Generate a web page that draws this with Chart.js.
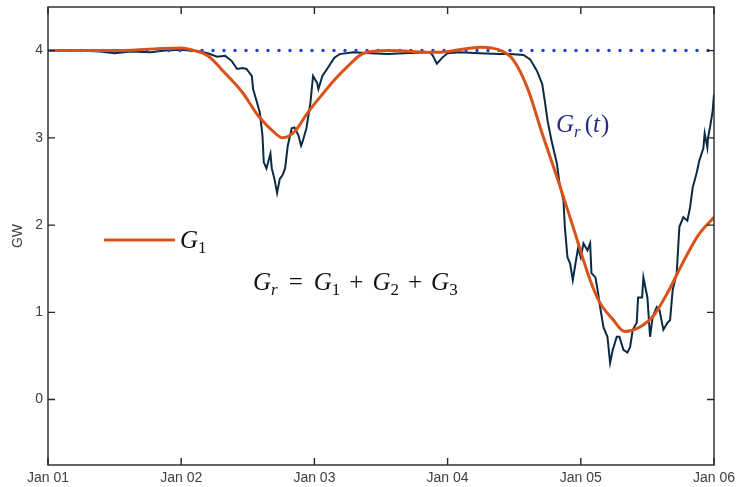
<!DOCTYPE html>
<html>
<head>
<meta charset="utf-8">
<script src="https://cdn.jsdelivr.net/npm/chart.js@4.4.0/dist/chart.umd.min.js"></script>
<style>
  html, body { margin: 0; padding: 0; background: #fff; }
  #wrap { width: 737px; height: 487px; }
</style>
</head>
<body>
<div id="wrap"><canvas id="genChart"></canvas></div>
<script>
// x values are days since Jan 01
const xTickDays = [0, 1, 2, 3, 4, 5];
const xTickLabels = ['Jan 01', 'Jan 02', 'Jan 03', 'Jan 04', 'Jan 05', 'Jan 06'];
const yTicks = [0, 1, 2, 3, 4];

// G_r(t) level (dotted)
const capDays = [0, 5];
const capGW = [4, 4];

// measured generation (dark noisy line)
const genDays = [
  0.00, 0.24, 0.39, 0.50, 0.62, 0.77, 0.88, 1.00, 1.14, 1.20,
  1.27, 1.33, 1.38, 1.42, 1.46, 1.49, 1.53, 1.54, 1.57, 1.59,
  1.61, 1.62, 1.64, 1.67, 1.68, 1.70, 1.72, 1.74, 1.76, 1.78,
  1.80, 1.83, 1.85, 1.88, 1.90, 1.91, 1.94, 1.97, 1.99, 2.02,
  2.03, 2.06, 2.10, 2.15, 2.19, 2.29, 2.42, 2.55, 2.67, 2.87,
  2.89, 2.92, 2.96, 3.00, 3.09, 3.24, 3.39, 3.47, 3.57, 3.62,
  3.67, 3.71, 3.73, 3.75, 3.78, 3.82, 3.84, 3.87, 3.88, 3.90,
  3.92, 3.94, 3.96, 3.98, 4.00, 4.02, 4.05, 4.07, 4.08, 4.11,
  4.13, 4.14, 4.17, 4.20, 4.22, 4.24, 4.27, 4.29, 4.32, 4.35,
  4.37, 4.39, 4.42, 4.43, 4.46, 4.47, 4.50, 4.505, 4.52, 4.54,
  4.57, 4.59, 4.62, 4.65, 4.67, 4.69, 4.72, 4.74, 4.77, 4.80,
  4.82, 4.84, 4.87, 4.89, 4.92, 4.93, 4.95, 4.955, 4.97, 4.99,
  5.00
];
const genGW = [
  4.00, 4.00, 3.99, 3.97, 3.99, 3.98, 4.00, 4.01, 3.99, 3.97,
  3.93, 3.94, 3.88, 3.79, 3.80, 3.79, 3.71, 3.56, 3.40, 3.29,
  3.03, 2.72, 2.65, 2.82, 2.65, 2.53, 2.37, 2.53, 2.57, 2.65,
  2.91, 3.11, 3.12, 3.03, 2.91, 2.95, 3.11, 3.40, 3.71, 3.63,
  3.56, 3.71, 3.80, 3.92, 3.96, 3.98, 3.97, 3.96, 3.97, 3.98,
  3.94, 3.85, 3.92, 3.97, 3.98, 3.97, 3.96, 3.96, 3.95, 3.90,
  3.77, 3.62, 3.42, 3.20, 2.97, 2.71, 2.48, 2.28, 1.98, 1.63,
  1.56, 1.37, 1.56, 1.74, 1.63, 1.79, 1.71, 1.79, 1.45, 1.40,
  1.22, 1.11, 0.83, 0.72, 0.42, 0.57, 0.72, 0.72, 0.57, 0.54,
  0.60, 0.80, 0.88, 1.17, 1.17, 1.40, 1.17, 1.06, 0.72, 0.95,
  1.06, 1.03, 0.80, 0.88, 0.91, 1.26, 1.45, 1.98, 2.09, 2.05,
  2.20, 2.43, 2.60, 2.74, 2.88, 3.05, 2.89, 3.00, 3.12, 3.31,
  3.50
];

// smooth component G_1 (orange)
const fitDays = [
  0.00, 0.50, 0.80, 1.00, 1.10, 1.20, 1.33, 1.46, 1.58, 1.70,
  1.76, 1.85, 1.95, 2.06, 2.16, 2.25, 2.37, 2.55, 2.92, 3.25,
  3.33, 3.40, 3.49, 3.60, 3.71, 3.83, 3.95, 4.07, 4.14, 4.24,
  4.33, 4.43, 4.55, 4.66, 4.77, 4.88, 5.00
];
const fitGW = [
  4.00, 4.00, 4.02, 4.03, 4.00, 3.94, 3.74, 3.52, 3.25, 3.06,
  3.00, 3.07, 3.29, 3.50, 3.68, 3.82, 3.97, 4.00, 3.98, 4.04,
  4.03, 4.00, 3.90, 3.57, 3.05, 2.51, 1.94, 1.37, 1.12, 0.92,
  0.78, 0.82, 0.97, 1.25, 1.58, 1.88, 2.09
];

function toPoints(xs, ys) {
  return xs.map((x, i) => ({ x: x, y: ys[i] }));
}

// draw a LaTeX-like string made of [text, kind] parts
function drawMath(ctx, x, y, parts, color) {
  let cx = x;
  ctx.fillStyle = color;
  ctx.textBaseline = 'alphabetic';
  ctx.textAlign = 'left';
  parts.forEach(([t, k]) => {
    if (k === 'gap') { cx += t; return; }
    let size = 25, dy = 0, style = '';
    if (k === 'i' || k === 'si') style = 'italic ';
    if (k === 's' || k === 'si') { size = 17; dy = 5; }
    ctx.font = style + size + 'px "Liberation Serif"';
    ctx.fillText(t, cx, y + dy);
    cx += ctx.measureText(t).width;
  });
}

function noPad(s) {
  s.paddingTop = 0; s.paddingBottom = 0; s.paddingLeft = 0; s.paddingRight = 0;
}

const framePlugin = {
  id: 'frame',
  afterDatasetsDraw(chart) {
    const ctx = chart.ctx;
    const a = chart.chartArea;
    const xs = chart.scales.x;
    const ys = chart.scales.y;
    ctx.save();

    // box and inward ticks
    ctx.strokeStyle = '#262626';
    ctx.lineWidth = 1.4;
    ctx.strokeRect(a.left, a.top, a.right - a.left, a.bottom - a.top);
    ctx.beginPath();
    xTickDays.forEach(d => {
      const px = xs.getPixelForValue(d);
      ctx.moveTo(px, a.bottom); ctx.lineTo(px, a.bottom - 7);
      ctx.moveTo(px, a.top); ctx.lineTo(px, a.top + 7);
    });
    yTicks.forEach(v => {
      const py = ys.getPixelForValue(v);
      ctx.moveTo(a.left, py); ctx.lineTo(a.left + 7, py);
      ctx.moveTo(a.right, py); ctx.lineTo(a.right - 7, py);
    });
    ctx.stroke();

    // G_1 key
    ctx.strokeStyle = '#d95319';
    ctx.lineWidth = 3;
    ctx.beginPath();
    ctx.moveTo(104, 240); ctx.lineTo(175, 240);
    ctx.stroke();
    drawMath(ctx, 180, 248, [['G', 'i'], ['1', 's']], '#111');

    drawMath(ctx, 556, 132, [['G', 'i'], ['r', 'si'], [4, 'gap'], ['(', 'r'], ['t', 'i'], [1, 'gap'], [')', 'r']], '#2b2b86');

    drawMath(ctx, 253, 290, [
      ['G', 'i'], ['r', 'si'], [11, 'gap'], ['=', 'r'], [11, 'gap'],
      ['G', 'i'], ['1', 's'], [9, 'gap'], ['+', 'r'], [9, 'gap'],
      ['G', 'i'], ['2', 's'], [9, 'gap'], ['+', 'r'], [9, 'gap'],
      ['G', 'i'], ['3', 's']
    ], '#111');

    ctx.restore();
  }
};

const tickFont = { family: '"Liberation Sans", Arial, sans-serif', size: 14 };

new Chart(document.getElementById('genChart'), {
  type: 'line',
  data: {
    datasets: [
      {
        label: 'G1',
        data: toPoints(fitDays, fitGW),
        borderColor: '#d95319',
        borderWidth: 3,
        tension: 0.4,
        cubicInterpolationMode: 'monotone',
        pointRadius: 0,
        order: 1
      },
      {
        label: 'Gr(t)',
        data: toPoints(capDays, capGW),
        borderColor: '#2342e0',
        borderWidth: 3.5,
        borderDash: [0, 11],
        borderCapStyle: 'round',
        pointRadius: 0,
        order: 2
      },
      {
        label: 'Generation',
        data: toPoints(genDays, genGW),
        borderColor: '#0b2b45',
        borderWidth: 2,
        tension: 0,
        pointRadius: 0,
        order: 3
      }
    ]
  },
  options: {
    responsive: true,
    maintainAspectRatio: false,
    animation: false,
    layout: { padding: { left: 0, right: 23, top: 7, bottom: 0 } },
    plugins: {
      legend: { display: false },
      tooltip: { enabled: false }
    },
    scales: {
      x: {
        type: 'linear',
        min: 0,
        max: 5,
        afterFit: s => { s.height = 22; noPad(s); },
        afterBuildTicks: s => { s.ticks = xTickDays.map(v => ({ value: v })); },
        grid: { display: false, drawTicks: false },
        border: { display: false },
        ticks: {
          autoSkip: false,
          maxRotation: 0,
          padding: 5,
          color: '#404040',
          font: tickFont,
          callback: v => xTickLabels[xTickDays.indexOf(v)]
        }
      },
      y: {
        min: -0.75,
        max: 4.5,
        afterFit: s => { s.width = 48; noPad(s); },
        afterBuildTicks: s => { s.ticks = yTicks.map(v => ({ value: v })); },
        grid: { display: false, drawTicks: false },
        border: { display: false },
        title: {
          display: true,
          text: 'GW',
          color: '#404040',
          font: tickFont,
          padding: { top: 10, bottom: 0 }
        },
        ticks: {
          padding: 5,
          color: '#404040',
          font: tickFont
        }
      }
    }
  },
  plugins: [framePlugin]
});
</script>
</body>
</html>
